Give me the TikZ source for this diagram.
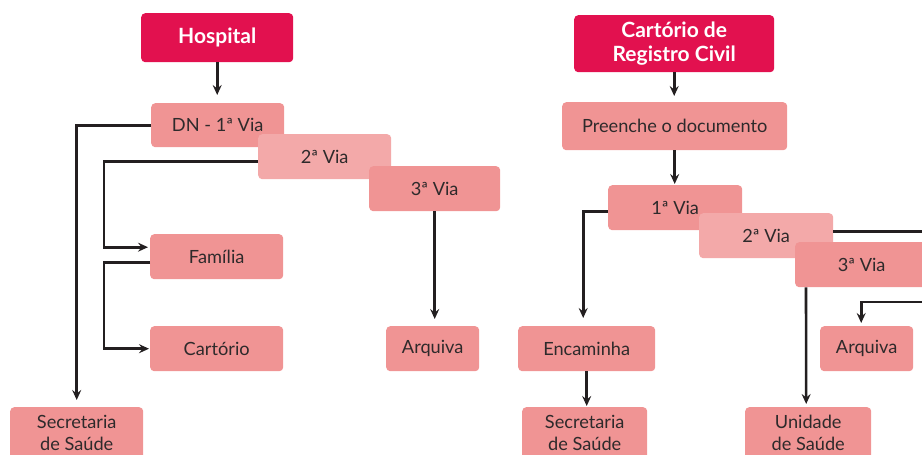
\documentclass[tikz,border=0pt]{standalone}
\usepackage{fontspec}
\setmainfont{Lato}
\usetikzlibrary{arrows.meta}
\definecolor{salmon}{HTML}{F09494}
\definecolor{lightsalmon}{HTML}{F3A9A9}
\definecolor{crimson}{HTML}{E2114F}
\definecolor{ink}{HTML}{2E2A2B}
\definecolor{wire}{HTML}{231F20}
\tikzset{
  box/.style={fill=salmon, rounded corners=4pt, text=ink, inner sep=0pt,
    align=center, anchor=north west,
    font=\fontsize{18.2}{22}\selectfont},
  lightbox/.style={box, fill=lightsalmon},
  headbox/.style={box, fill=crimson, text=white,
    font=\fontsize{21}{24.5}\selectfont\bfseries},
  wirepath/.style={draw=wire, line width=2.6pt},
  arr/.style={wirepath, -{Stealth[length=10pt,width=9pt,inset=3.5pt]}},
}
\begin{document}
\begin{tikzpicture}[x=1pt, y=-1pt]
\useasboundingbox (0,0) rectangle (922,455);
\clip (0,0) rectangle (922,455);

% ---- Hospital flow ----
\node[headbox, minimum width=152pt, minimum height=49pt] (hosp) at (141,13) {Hospital};
\node[box, minimum width=133pt, minimum height=44pt] (dn) at (151,103) {DN - 1ª Via};
\node[lightbox, minimum width=133pt, minimum height=45pt] (v2) at (258,134) {2ª Via};
\node[box, minimum width=131pt, minimum height=45pt] (v3) at (369,166) {3ª Via};
\node[box, minimum width=133pt, minimum height=45pt] (fam) at (150,234) {Família};
\node[box, minimum width=133pt, minimum height=45pt] (cart) at (150,326) {Cartório};
\node[box, minimum width=93pt, minimum height=45pt] (arq1) at (386,326) {Arquiva};
\node[box, minimum width=133pt, minimum height=52pt] (sec1) at (10,407) {Secretaria\\de Saúde};

% x position of the trunk feeding Família and Cartório
\coordinate (trunk) at (104,0);

\draw[arr, shorten >=8pt] (hosp.south) -- (hosp.south |- dn.north);
\draw[arr, shorten >=7pt] (dn.west) -| (sec1.north);
\draw[arr, shorten >=2pt] ([yshift=-4.5pt]v2.west) -- ([yshift=-4.5pt]v2.west -| trunk)
  |- ([yshift=9.5pt]fam.west);
\draw[arr, shorten >=1pt] ([yshift=-5.5pt]fam.west) -- ([yshift=-5.5pt]fam.west -| trunk)
  |- (cart.west);
\draw[arr, shorten >=7pt] (v3.south) -- (v3.south |- arq1.north);

% ---- Cartório de Registro Civil flow ----
\node[headbox, minimum width=200pt, minimum height=57pt] (reg) at (574,15) {Cartório de\\Registro Civil};
\node[box, minimum width=225pt, minimum height=48pt] (pre) at (562,102) {Preenche o documento};
\node[box, minimum width=134pt, minimum height=45pt] (w1) at (608,185) {1ª Via};
\node[lightbox, minimum width=134pt, minimum height=45pt] (w2) at (699,213) {2ª Via};
\node[box, minimum width=133pt, minimum height=45pt] (w3) at (795,242) {3ª Via};
\node[box, minimum width=137pt, minimum height=45pt] (enc) at (518,326) {Encaminha};
\node[box, minimum width=93pt, minimum height=45pt] (arq2) at (820,326) {Arquiva};
\node[box, minimum width=125pt, minimum height=52pt] (sec2) at (522,407) {Secretaria\\de Saúde};
\node[box, minimum width=126pt, minimum height=52pt] (unid) at (745,407) {Unidade\\de Saúde};

\draw[arr, shorten >=6pt] (reg.south) -- (reg.south |- pre.north);
\draw[arr, shorten >=1pt] (pre.south) -- (pre.south |- w1.north);
\draw[arr, shorten >=8pt] ([yshift=-3.5pt]w1.west) -| ([xshift=-3.5pt]enc.north);
\draw[arr, shorten >=1pt] (enc.south) -- (enc.south |- sec2.north);
\coordinate (w2out) at (930,0);
\draw[wirepath] ([yshift=4.5pt]w2.east) -- ([yshift=4.5pt]w2.east -| w2out);
\draw[arr, shorten >=3pt] ([xshift=11pt]w3.south west) -- ([xshift=-2pt]unid.north);
\coordinate (arqfeed) at (930,302);
\draw[arr, shorten >=3pt] (arqfeed) -| ([xshift=-5.5pt]arq2.north);
\end{tikzpicture}
\end{document}
